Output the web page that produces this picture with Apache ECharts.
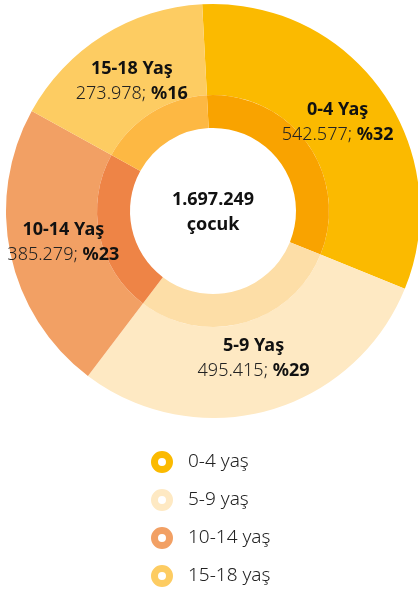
<!DOCTYPE html>
<html>
<head>
<meta charset="utf-8">
<script src="https://cdn.jsdelivr.net/npm/echarts@6/dist/echarts.min.js"></script>
<style>
  html, body { margin: 0; padding: 0; background: #fff; }
  #main { width: 418px; height: 593px; }
</style>
</head>
<body>
<div id="main"></div>
<script>
// age groups and child counts
var groups = ['0-4', '5-9', '10-14', '15-18'];
var counts = [542577, 495415, 385279, 273978];
var outerColors = ['#FBBA00', '#FEE9C3', '#F2A064', '#FDCC62'];
var innerColors = ['#F9A300', '#FDDEA7', '#EE8446', '#FDB843'];

var total = counts.reduce(function (a, b) { return a + b; }, 0);

function fmt(n) {
  return String(n).replace(/\B(?=(\d{3})+(?!\d))/g, '.');
}

var myChart = echarts.init(document.getElementById('main'), null, { renderer: 'canvas' });

var font = 'Noto Sans';
var ringIcon = 'path://M11,0 A11,11 0 1,1 11,22 A11,11 0 1,1 11,0 Z M11,7 A4,4 0 1,0 11,15 A4,4 0 1,0 11,7 Z';

function makeData(colors) {
  return groups.map(function (g, i) {
    return { name: g + ' yaş', value: counts[i], itemStyle: { color: colors[i] } };
  });
}

var option = {
  animation: false,
  graphic: [{
    type: 'text',
    style: {
      x: 213,
      y: 212,
      text: fmt(total) + '\nçocuk',
      align: 'center',
      verticalAlign: 'middle',
      fontFamily: font,
      fontWeight: 'bold',
      fontSize: 18,
      lineHeight: 25,
      fill: '#111'
    }
  }],
  legend: {
    orient: 'vertical',
    left: 146,
    top: 446,
    height: 145,
    itemWidth: 22,
    itemHeight: 22,
    itemGap: 16,
    icon: ringIcon,
    textStyle: { fontFamily: font, fontSize: 19, fontWeight: 300, color: '#222', padding: [0, 0, 0, 10] },
    data: groups.map(function (g) { return g + ' yaş'; })
  },
  series: [
    {
      name: 'outer',
      type: 'pie',
      center: [213, 211],
      radius: [116, 207],
      startAngle: 93,
      emphasis: { scale: false },
      label: { show: false },
      labelLine: { show: false },
      data: makeData(outerColors)
    },
    {
      name: 'inner',
      type: 'pie',
      center: [213, 211],
      radius: [83, 116],
      startAngle: 93,
      silent: true,
      label: { show: false },
      labelLine: { show: false },
      data: makeData(innerColors)
    },
    {
      // transparent ring carrying the labels, a bit further in than the outer ring's middle
      name: 'labels',
      type: 'pie',
      z: 4,
      center: [213, 211],
      radius: [93, 207],
      startAngle: 93,
      silent: true,
      avoidLabelOverlap: false,
      itemStyle: { color: 'rgba(0,0,0,0)' },
      labelLine: { show: false },
      label: {
        show: true,
        position: 'inside',
        formatter: function (p) {
          var g = groups[p.dataIndex];
          var pct = Math.round(p.value / total * 100);
          return '{b|' + g + ' Yaş}\n{n|' + fmt(p.value) + '; }{p|%' + pct + '}';
        },
        rich: {
          b: { fontFamily: font, fontWeight: 'bold', fontSize: 18, color: '#111', lineHeight: 25, align: 'center' },
          n: { fontFamily: font, fontWeight: 300, fontSize: 18, color: '#222', lineHeight: 25 },
          p: { fontFamily: font, fontWeight: 'bold', fontSize: 18, color: '#111', lineHeight: 25 }
        }
      },
      data: groups.map(function (g, i) { return { name: g + ' yaş', value: counts[i] }; })
    }
  ]
};

myChart.setOption(option);
</script>
</body>
</html>
